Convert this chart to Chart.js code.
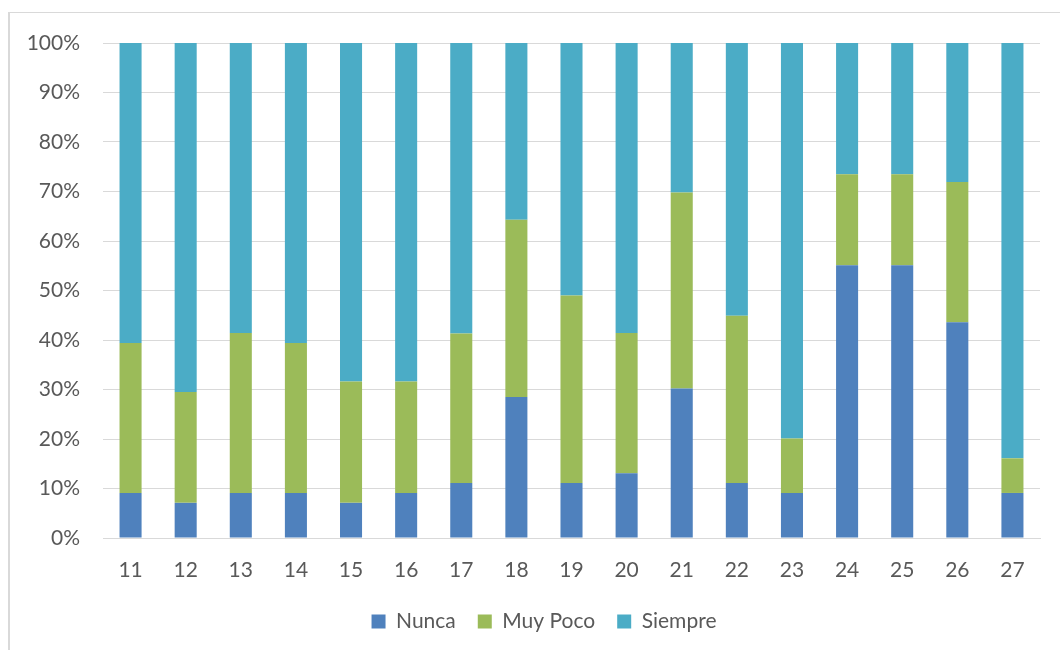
<!DOCTYPE html>
<html>
<head>
<meta charset="utf-8">
<script src="https://cdn.jsdelivr.net/npm/chart.js@4"></script>
<style>
  body { margin: 0; background: #ffffff; overflow: hidden; }
  #frame { position: absolute; left: 8px; top: 12px; width: 1100px; height: 700px;
           border-top: 1px solid #d9d9d9; border-left: 2px solid #d9d9d9; }
  canvas { position: absolute; left: 0; top: 0; }
</style>
</head>
<body>
<div id="frame"><canvas id="chart" width="1045" height="636"></canvas></div>
<script>
// respuestas por pregunta, en porcentaje
const categories = ['11','12','13','14','15','16','17','18','19','20','21','22','23','24','25','26','27'];
const nunca   = [9.1, 7.1, 9.1, 9.1, 7.1, 9.1, 11.1, 28.5, 11.1, 13.1, 30.2, 11.1, 9.1, 55.1, 55.1, 43.6, 9.1];
const muyPoco = [30.3, 22.4, 32.3, 30.3, 24.5, 22.5, 30.2, 35.8, 37.9, 28.3, 39.6, 33.8, 11.0, 18.4, 18.4, 28.3, 7.0];
const siempre = [60.6, 70.5, 58.6, 60.6, 68.4, 68.4, 58.7, 35.7, 51.0, 58.6, 30.2, 55.1, 79.9, 26.5, 26.5, 28.1, 83.9];
const yTicks  = [0, 10, 20, 30, 40, 50, 60, 70, 80, 90, 100];

const linecolors = ['#4f81bd', '#9bbb59', '#4bacc6'];
const fontFamily = 'Lato, "Open Sans", sans-serif';

const datasets = [
    { label: 'Nunca', data: nunca },
    { label: 'Muy Poco', data: muyPoco },
    { label: 'Siempre', data: siempre }
].map((d, i) => ({
    ...d,
    backgroundColor: linecolors[i],
    borderWidth: 0,
    barPercentage: 0.4,
    categoryPercentage: 1.0
}));

// la leyenda va un poco a la derecha del centro del lienzo
const legendShift = {
    id: 'legendShift',
    afterLayout(chart) {
        chart.legend.left += 19;
        chart.legend.right += 19;
    }
};

new Chart(document.getElementById('chart'), {
    type: 'bar',
    data: { labels: categories, datasets: datasets },
    plugins: [legendShift],
    options: {
        responsive: false,
        animation: false,
        layout: { padding: { top: 30, right: 15, left: 0, bottom: 7 } },
        scales: {
            x: {
                stacked: true,
                grid: { display: false, drawTicks: false },
                border: { color: '#d9d9d9', width: 1 },
                ticks: { color: '#595959', font: { family: fontFamily, size: 21 }, padding: 20 },
                afterFit: (scale) => { scale.height = 51; }
            },
            y: {
                stacked: true,
                min: 0,
                max: 100,
                afterBuildTicks: (scale) => { scale.ticks = yTicks.map(v => ({ value: v })); },
                grid: { color: '#d9d9d9', lineWidth: 1, drawTicks: false },
                border: { display: false },
                ticks: {
                    color: '#595959',
                    font: { family: fontFamily, size: 21 },
                    padding: 23,
                    callback: (v) => v + '%'
                },
                afterFit: (scale) => {
                    scale.width = 93;
                    scale.paddingTop = 0;
                    scale.paddingBottom = 0;
                }
            }
        },
        plugins: {
            legend: {
                position: 'bottom',
                labels: {
                    boxWidth: 14,
                    boxHeight: 14,
                    padding: 22,
                    color: '#595959',
                    font: { family: fontFamily, size: 21 }
                }
            },
            tooltip: { enabled: false }
        }
    }
});
</script>
</body>
</html>
